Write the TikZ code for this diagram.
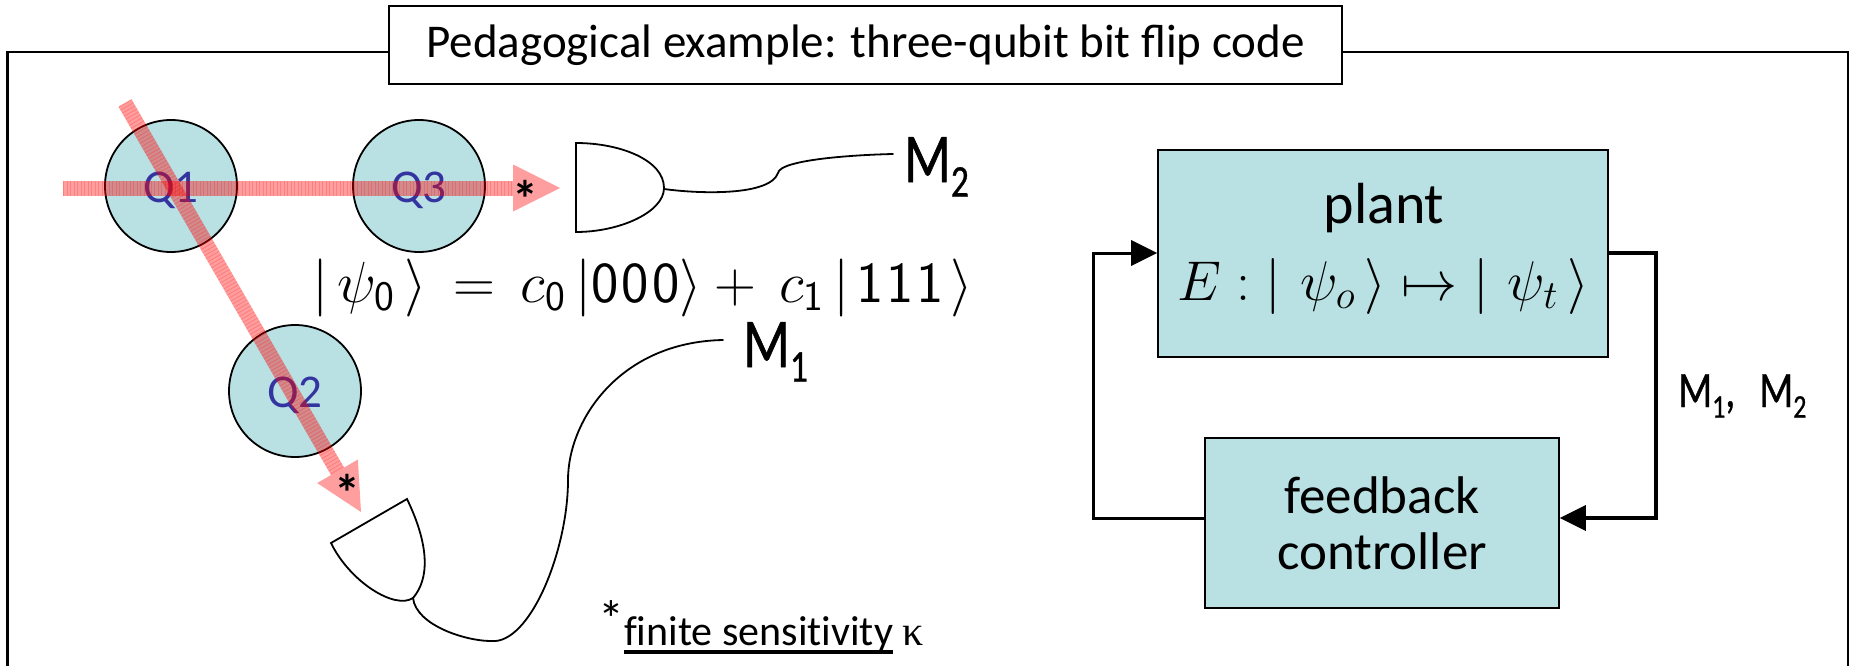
\documentclass[tikz,border=0pt]{standalone}
\usepackage{fontspec}
\usepackage{anyfontsize}
\newfontfamily\labelfont{Carlito}
\newfontfamily\notefont[Ligatures=NoCommon]{Carlito}
\newfontfamily\narrowfont[FakeStretch=0.78,FakeBold=0.8]{Carlito}
\newfontfamily\greekfont{Liberation Serif}
\usetikzlibrary{arrows.meta}
\DeclareMathSizes{58}{58}{42}{32}
\DeclareMathSizes{56}{56}{40}{30}
\definecolor{BoxTeal}{HTML}{B9E0E3}
\definecolor{QubitBlue}{HTML}{3434A0}
\newcommand{\msub}[1]{\raisebox{-.21em}{\scalebox{.65}{#1}}}
\newcommand{\heavyline}[1]{\setbox0\hbox{#1}\rlap{\rule[-9pt]{\wd0}{4.5pt}}\box0\relax}
\tikzstyle{qubit} = [
  circle, draw=black, fill=BoxTeal, line width=1.8pt,
  minimum size=132pt, inner sep=0pt, text=QubitBlue,
  text height=33pt, text depth=0pt,
  font=\labelfont\fontsize{47}{50}\selectfont
]
\tikzstyle{block} = [
  rectangle, draw=black, fill=BoxTeal, line width=1.8pt,
  inner sep=0pt, align=center,
  font=\labelfont\fontsize{53}{56}\selectfont
]
\tikzstyle{beam} = [
  -{Triangle[length=47pt,width=47pt,line width=0pt]},
  line width=15pt, draw=red, opacity=0.38
]
\tikzstyle{beamgrain} = [
  line width=15pt, draw=red, opacity=0.2, shorten >=47pt,
  dash pattern=on 1pt off 2.5pt
]
\tikzstyle{wire} = [line width=1.8pt, line cap=round]
\tikzstyle{frameline} = [line width=2.5pt]
\tikzstyle{arrow} = [-{Triangle[length=26pt,width=26pt,line width=0pt]}, line width=3pt]
\tikzstyle{thickarrow} = [-{Triangle[length=26pt,width=26pt,line width=0pt]}, line width=4.5pt]
\tikzstyle{maths} = [inner sep=0pt, anchor=base west, font=\fontsize{58}{60}\selectfont]
\tikzstyle{readout} = [inner sep=0pt, anchor=base west, font=\narrowfont\fontsize{70}{72}\selectfont]
\tikzstyle{starmark} = [inner sep=0pt, font=\labelfont\bfseries\fontsize{52}{52}\selectfont]

\begin{document}
\begin{tikzpicture}[x=1pt, y=-1pt]
  \useasboundingbox (0,0) rectangle (1851,666);

  % Outer frame and title
  \coordinate (frameleft) at (389,52);
  \coordinate (frameright) at (1342,52);
  \coordinate (framebl) at (7.5,666);
  \coordinate (framebr) at (1848,666);
  \draw[frameline] (frameleft) -- (framebl |- frameleft) -- (framebl);
  \draw[frameline] (frameright) -- (framebr |- frameright) -- (framebr);
  \node[draw=black, fill=white, frameline, minimum width=953pt, minimum height=78pt, inner sep=0pt,
    font=\labelfont\fontsize{47}{50}\selectfont] (title) at (865.5,45)
    {Pedagogical example: three-qubit bit flip code};

  % Qubits
  \node[qubit] (q1) at (171,186) {Q1};
  \node[qubit] (q3) at (419,186) {Q3};
  \node[qubit] (q2) at (295,391) {Q2};

  % Beams
  \coordinate (hbeamstart) at (63,188);
  \coordinate (hbeamend) at (560,188);
  \coordinate (dbeamstart) at (125,103);
  \coordinate (dbeamend) at (361,512);
  \draw[beam] (hbeamstart) -- (hbeamend);
  \draw[beamgrain] (hbeamstart) -- (hbeamend);
  \draw[beam] (dbeamstart) -- (dbeamend);
  \draw[beamgrain] (dbeamstart) -- (dbeamend);
  \node[starmark] (hstar) at (525,199) {*};
  \node[starmark] (dstar) at (347,493) {*};

  % Detectors
  \draw[wire, fill=white] (576,143) .. controls (620,143) and (664,160) .. (664,188)
    .. controls (664,212) and (620,232) .. (576,232) -- cycle;
  \draw[wire, fill=white] (407,499) .. controls (422,530) and (435,572) .. (413,598)
    .. controls (395,610) and (350,582) .. (331,543) -- cycle;

  % State
  \node[maths] (state) at (312,302)
    {$|\,\psi_{\mathsf{0}}\,\rangle\,=\,c_{\mathsf{0}}\,|\mathsf{0\mkern1mu0\mkern1mu0}\rangle+\,c_{\mathsf{1}}\,|\mkern2mu\mathsf{1\mkern1mu1\mkern1mu1}\mkern2mu\rangle$};

  % Readouts
  \node[readout] (m2) at (904,182) {M\msub{2}};
  \node[readout] (m1) at (743,367) {M\msub{1}};
  \coordinate (m2end) at (893,154);
  \coordinate (m1end) at (723,340);
  \coordinate (det2out) at (664,189);
  \coordinate (det1out) at (413,598);
  \draw[wire] (det2out) .. controls (700,194) and (770,196) .. (778,173)
    .. controls (780,160) and (850,155) .. (m2end);
  \draw[wire] (det1out) .. controls (416,625) and (465,641) .. (491,641)
    .. controls (530,645) and (568,550) .. (568,480)
    .. controls (568,420) and (620,342) .. (m1end);

  % Sensitivity note
  \node[inner sep=0pt, anchor=base west, font=\notefont\fontsize{42}{44}\selectfont] (note) at (598,645)
    {\raisebox{8pt}{\fontsize{52}{52}\selectfont *}\heavyline{finite sensitivity} {\greekfont κ}};

  % Feedback loop
  \node[block, minimum width=450pt, minimum height=207pt] (plant) at (1383,253.5) {};
  \node[inner sep=0pt, font=\labelfont\fontsize{58}{60}\selectfont, anchor=base] (planttext) at (1384,223) {plant};
  \node[maths, anchor=base, font=\fontsize{56}{60}\selectfont] (plantmap) at (1383,300)
    {$E:|\,\,\psi_o\,\rangle \mapsto |\,\,\psi_t\,\rangle$};
  \node[block, minimum width=354pt, minimum height=170pt] (controller) at (1382,523) {feedback\\controller};
  \node[inner sep=0pt, anchor=base west, font=\narrowfont\fontsize{51}{60}\selectfont] (feedbacklabel) at (1678,407)
    {M\msub{1},\hspace{24pt}M\msub{2}};
  \coordinate (rightbend) at (1656,253);
  \coordinate (leftbend) at (1093,518);
  \draw[thickarrow] (plant.east |- rightbend) -- (rightbend) -- (rightbend |- leftbend) -- (controller.east |- leftbend);
  \draw[arrow] (controller.west |- leftbend) -- (leftbend) -- (leftbend |- rightbend) -- (plant.west |- rightbend);

\end{tikzpicture}
\end{document}
